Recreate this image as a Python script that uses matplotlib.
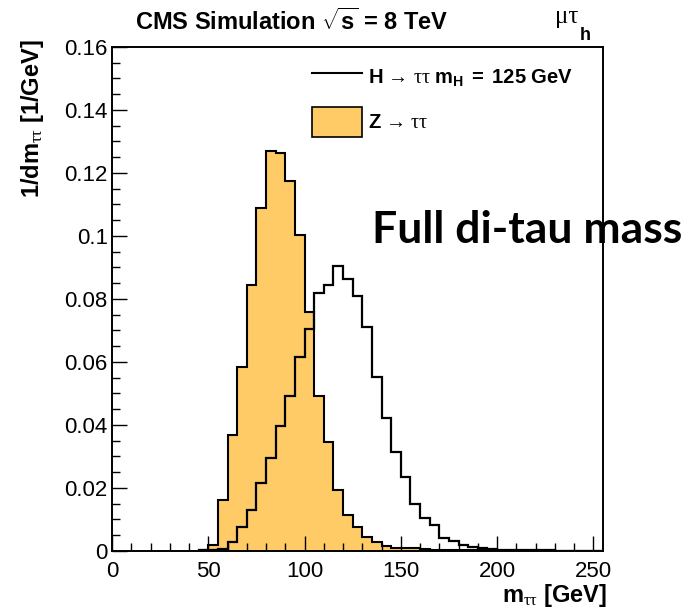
import numpy as np
import matplotlib
matplotlib.use("Agg")
import matplotlib.pyplot as plt
from matplotlib.lines import Line2D
from matplotlib.patches import Patch

plt.rcParams["font.family"] = ["Liberation Sans", "DejaVu Sans"]
plt.rcParams["mathtext.fontset"] = "custom"
plt.rcParams["mathtext.rm"] = "Liberation Serif"
plt.rcParams["mathtext.it"] = "Liberation Serif"
plt.rcParams["mathtext.bf"] = "Liberation Sans:bold"

# 5 GeV bins of the reconstructed di-tau mass, 45 - 255 GeV
mass_edges = np.arange(45, 256, 5)

# normalised distributions (1/GeV)
h_tautau = [0.0002, 0.0004, 0.0007, 0.0030, 0.0077, 0.0130, 0.0215, 0.0294,
            0.0397, 0.0493, 0.0617, 0.0704, 0.0818, 0.0844, 0.0906, 0.0862,
            0.0808, 0.0712, 0.0553, 0.0421, 0.0313, 0.0234, 0.0149, 0.0104,
            0.0081, 0.0042, 0.0032, 0.0019, 0.0013, 0.0008, 0.0005, 0.0003,
            0.0003, 0.0002, 0.0002, 0.0002, 0.0002, 0.0001, 0.0001, 0.0001,
            0.0001, 0.0001]
z_tautau = [0.0003, 0.0019, 0.0162, 0.0368, 0.0585, 0.0844, 0.1088, 0.1271,
            0.1262, 0.1176, 0.1002, 0.0760, 0.0493, 0.0347, 0.0194, 0.0114,
            0.0075, 0.0044, 0.0028, 0.0015, 0.0010, 0.0009, 0.0010, 0.0005,
            0.0004, 0.0004, 0.0004, 0.0003, 0.0002, 0.0002, 0.0001, 0.0001,
            0.0001, 0.0001, 0.0, 0.0, 0.0, 0.0, 0.0, 0.0, 0.0, 0.0]

z_color = "#fecb66"

fig = plt.figure(figsize=(6.88, 6.11), dpi=100)
ax = fig.add_axes([0.1628, 0.0982, 0.7137, 0.8249])

# Z -> tautau filled, H -> tautau as outline on top
ax.stairs(z_tautau, mass_edges, fill=True, color=z_color, zorder=1)
ax.stairs(z_tautau, mass_edges, color="black", lw=1.5, zorder=2)
ax.stairs(h_tautau, mass_edges, color="black", lw=1.6, zorder=3)

ax.set_xlim(0, 255)
ax.set_ylim(0, 0.16)
ax.set_xticks(np.arange(0, 251, 50))
ax.set_xticks(np.arange(0, 251, 10), minor=True)
ax.set_yticks(np.arange(0, 0.161, 0.02))
ax.set_yticks(np.arange(0, 0.161, 0.005), minor=True)
ax.set_xticklabels(["0", "50", "100", "150", "200", "250"])
ax.set_yticklabels(["0", "0.02", "0.04", "0.06", "0.08", "0.1", "0.12", "0.14", "0.16"])
ax.tick_params(which="both", direction="in", top=False, right=False,
               width=1.0, labelsize=16)
ax.tick_params(which="major", length=11)
ax.tick_params(which="minor", length=5.5)
ax.tick_params(axis="x", pad=7)
ax.tick_params(axis="y", pad=3)
for sp in ax.spines.values():
    sp.set_linewidth(1.4)

# legend
handles = [Line2D([], [], color="black", lw=1.5),
           Patch(facecolor=z_color, edgecolor="black", lw=1.2)]
labels = [r"$\mathbf{H}\ \mathrm{→\ ττ}\ \mathbf{m_{H}\ =\ 125\ GeV}$",
          r"$\mathbf{Z}\ \mathrm{→\ ττ}$"]
ax.legend(handles, labels, loc="upper left", bbox_to_anchor=(0.407, 0.97),
          frameon=False, fontsize=14.5, handlelength=2.5, handleheight=1.9,
          labelspacing=0.75, handletextpad=0.3, borderpad=0, borderaxespad=0)

# axis titles
fig.text(0.882, 0.015, r"$\mathbf{m}_{\mathrm{ττ}}\mathbf{\ [GeV]}$",
         ha="right", va="baseline", fontsize=17)
fig.text(0.047, 0.935, r"$\mathbf{1/dm}_{\mathrm{ττ}}\mathbf{\ [1/GeV]}$",
         ha="center", va="top", rotation=90, fontsize=17)

# header
fig.text(0.196, 0.951, r"CMS Simulation $\sqrt{\mathbf{s}}$ = 8 TeV",
         ha="left", va="baseline", fontsize=17, fontweight="bold")
fig.text(0.806, 0.962, "μτ", ha="left", va="baseline", fontsize=18,
         family="Liberation Serif")
fig.text(0.842, 0.935, "h", ha="left", va="baseline", fontsize=13,
         fontweight="bold")

fig.text(0.541, 0.603, "Full di-tau mass", ha="left", va="baseline",
         fontsize=32, fontweight="bold", family="Lato")

fig.savefig("out.png", dpi=100)
